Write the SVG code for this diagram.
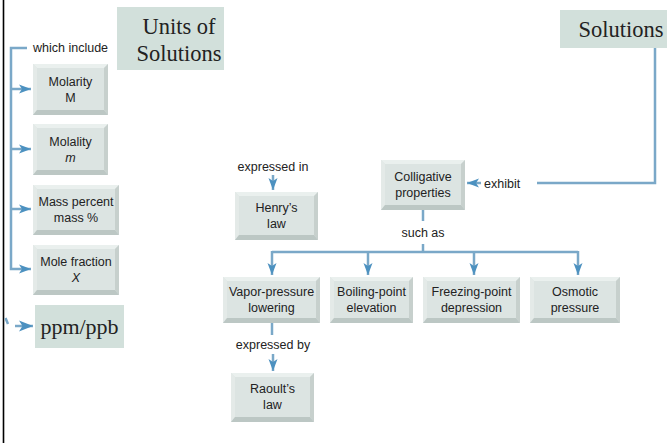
<svg xmlns="http://www.w3.org/2000/svg" width="667" height="443" viewBox="0 0 667 443">
<defs>
<style>
.face{fill:#dce4e2}
.bt{fill:#eaf0ee}
.bl{fill:#e4eae8}
.br{fill:#c7d0cd}
.bb{fill:#bcc7c4}
.flat{fill:#d2e0db}
.t{font-family:"Liberation Sans",Arial,sans-serif;font-size:12.5px;fill:#222;text-anchor:middle}
.lbl{font-family:"Liberation Sans",Arial,sans-serif;font-size:12.5px;fill:#222}
.big{font-family:"Liberation Serif","Times New Roman",serif;font-size:22.5px;fill:#222;text-anchor:middle}
.c{fill:none;stroke:#7aa8c8;stroke-width:2.5}
</style>
<marker id="ah" markerUnits="userSpaceOnUse" markerWidth="13" markerHeight="10" refX="12" refY="5" orient="auto">
<path d="M0,0.5 L12,5 L0,9.5 L3,5 Z" fill="#4c91c0"/>
</marker>
<marker id="ah2" markerUnits="userSpaceOnUse" markerWidth="15" markerHeight="12" refX="14" refY="6" orient="auto">
<path d="M0,0.5 L14,6 L0,11.5 L3.5,6 Z" fill="#4c91c0"/>
</marker>
</defs>
<rect width="667" height="443" fill="#fff"/>
<line x1="3.5" y1="0" x2="3.5" y2="443" stroke="#000" stroke-width="1.6"/>

<g id="connectors">
<path class="c" d="M27,48 H11 V269 H31" marker-end="url(#ah)"/>
<path class="c" d="M11,89 H31" marker-end="url(#ah)"/>
<path class="c" d="M11,149 H31" marker-end="url(#ah)"/>
<path class="c" d="M11,209 H31" marker-end="url(#ah)"/>
<path class="c" d="M15,326 H33" marker-end="url(#ah2)"/>
<path class="c" d="M5.5,318 L8,324"/>
<path class="c" d="M655,48 V183 H537"/>
<path class="c" d="M481,183 H467" marker-end="url(#ah)"/>
<path class="c" d="M273,175 V190" marker-end="url(#ah)"/>
<path class="c" d="M423,210 V221"/>
<path class="c" d="M423,244 V252"/>
<path class="c" d="M272,252 H578"/>
<path class="c" d="M272,251 V275" marker-end="url(#ah)"/>
<path class="c" d="M368,252 V275" marker-end="url(#ah)"/>
<path class="c" d="M474,252 V275" marker-end="url(#ah)"/>
<path class="c" d="M578,251 V275" marker-end="url(#ah)"/>
<path class="c" d="M272,323 V335"/>
<path class="c" d="M273,354 V371" marker-end="url(#ah)"/>
</g>

<text class="lbl" x="33" y="52">which include</text>
<text class="lbl" x="484" y="188">exhibit</text>
<text class="t" x="273" y="171">expressed in</text>
<text class="t" x="423" y="237">such as</text>
<text class="t" x="273" y="349">expressed by</text>

<g id="units">
<rect class="flat" x="117" y="7" width="107" height="63"/>
<text class="big" x="179" y="34">Units of</text>
<text class="big" x="179" y="61">Solutions</text>
</g>
<g id="solutions">
<rect class="flat" x="560" y="10" width="110" height="38"/>
<text class="big" x="621" y="37">Solutions</text>
</g>
<g id="ppm">
<rect class="flat" x="35" y="305" width="89" height="43"/>
<text class="big" x="79.5" y="334" style="font-size:22px">ppm/ppb</text>
</g>

<g id="molarity">
<rect class="face" x="33" y="64" width="75" height="51"/>
<polygon class="bt" points="33,64 108,64 104,68 37,68"/>
<polygon class="bl" points="33,64 37,68 37,110 33,115"/>
<polygon class="br" points="108,64 108,115 104,110 104,68"/>
<polygon class="bb" points="33,115 108,115 104,110 37,110"/>
<text class="t" x="70.5" y="86">Molarity</text>
<text class="t" x="70.5" y="102">M</text>
</g>
<g id="molality">
<rect class="face" x="33" y="124" width="75" height="51"/>
<polygon class="bt" points="33,124 108,124 104,128 37,128"/>
<polygon class="bl" points="33,124 37,128 37,170 33,175"/>
<polygon class="br" points="108,124 108,175 104,170 104,128"/>
<polygon class="bb" points="33,175 108,175 104,170 37,170"/>
<text class="t" x="70.5" y="146">Molality</text>
<text class="t" x="70.5" y="162" font-style="italic">m</text>
</g>
<g id="masspercent">
<rect class="face" x="33" y="185" width="86" height="50"/>
<polygon class="bt" points="33,185 119,185 115,189 37,189"/>
<polygon class="bl" points="33,185 37,189 37,230 33,235"/>
<polygon class="br" points="119,185 119,235 115,230 115,189"/>
<polygon class="bb" points="33,235 119,235 115,230 37,230"/>
<text class="t" x="76" y="206">Mass percent</text>
<text class="t" x="76" y="222">mass %</text>
</g>
<g id="molefraction">
<rect class="face" x="33" y="245" width="86" height="50"/>
<polygon class="bt" points="33,245 119,245 115,249 37,249"/>
<polygon class="bl" points="33,245 37,249 37,290 33,295"/>
<polygon class="br" points="119,245 119,295 115,290 115,249"/>
<polygon class="bb" points="33,295 119,295 115,290 37,290"/>
<text class="t" x="76" y="266">Mole fraction</text>
<text class="t" x="76" y="282" font-style="italic">X</text>
</g>

<g id="colligative">
<rect class="face" x="381" y="160" width="84" height="50"/>
<polygon class="bt" points="381,160 465,160 461,164 385,164"/>
<polygon class="bl" points="381,160 385,164 385,205 381,210"/>
<polygon class="br" points="465,160 465,210 461,205 461,164"/>
<polygon class="bb" points="381,210 465,210 461,205 385,205"/>
<text class="t" x="423" y="181">Colligative</text>
<text class="t" x="423" y="197">properties</text>
</g>
<g id="henry">
<rect class="face" x="235" y="192" width="83" height="48"/>
<polygon class="bt" points="235,192 318,192 314,196 239,196"/>
<polygon class="bl" points="235,192 239,196 239,235 235,240"/>
<polygon class="br" points="318,192 318,240 314,235 314,196"/>
<polygon class="bb" points="235,240 318,240 314,235 239,235"/>
<text class="t" x="276.5" y="212">Henry’s</text>
<text class="t" x="276.5" y="228">law</text>
</g>
<g id="vapor">
<rect class="face" x="223" y="277" width="97" height="46"/>
<polygon class="bt" points="223,277 320,277 316,281 227,281"/>
<polygon class="bl" points="223,277 227,281 227,318 223,323"/>
<polygon class="br" points="320,277 320,323 316,318 316,281"/>
<polygon class="bb" points="223,323 320,323 316,318 227,318"/>
<text class="t" x="271.5" y="296">Vapor-pressure</text>
<text class="t" x="271.5" y="312">lowering</text>
</g>
<g id="boiling">
<rect class="face" x="330" y="277" width="83" height="46"/>
<polygon class="bt" points="330,277 413,277 409,281 334,281"/>
<polygon class="bl" points="330,277 334,281 334,318 330,323"/>
<polygon class="br" points="413,277 413,323 409,318 409,281"/>
<polygon class="bb" points="330,323 413,323 409,318 334,318"/>
<text class="t" x="371.5" y="296">Boiling-point</text>
<text class="t" x="371.5" y="312">elevation</text>
</g>
<g id="freezing">
<rect class="face" x="423" y="277" width="97" height="46"/>
<polygon class="bt" points="423,277 520,277 516,281 427,281"/>
<polygon class="bl" points="423,277 427,281 427,318 423,323"/>
<polygon class="br" points="520,277 520,323 516,318 516,281"/>
<polygon class="bb" points="423,323 520,323 516,318 427,318"/>
<text class="t" x="471.5" y="296">Freezing-point</text>
<text class="t" x="471.5" y="312">depression</text>
</g>
<g id="osmotic">
<rect class="face" x="530" y="277" width="90" height="46"/>
<polygon class="bt" points="530,277 620,277 616,281 534,281"/>
<polygon class="bl" points="530,277 534,281 534,318 530,323"/>
<polygon class="br" points="620,277 620,323 616,318 616,281"/>
<polygon class="bb" points="530,323 620,323 616,318 534,318"/>
<text class="t" x="575" y="296">Osmotic</text>
<text class="t" x="575" y="312">pressure</text>
</g>
<g id="raoult">
<rect class="face" x="231" y="373" width="83" height="49"/>
<polygon class="bt" points="231,373 314,373 310,377 235,377"/>
<polygon class="bl" points="231,373 235,377 235,417 231,422"/>
<polygon class="br" points="314,373 314,422 310,417 310,377"/>
<polygon class="bb" points="231,422 314,422 310,417 235,417"/>
<text class="t" x="272.5" y="393">Raoult’s</text>
<text class="t" x="272.5" y="409">law</text>
</g>
</svg>
